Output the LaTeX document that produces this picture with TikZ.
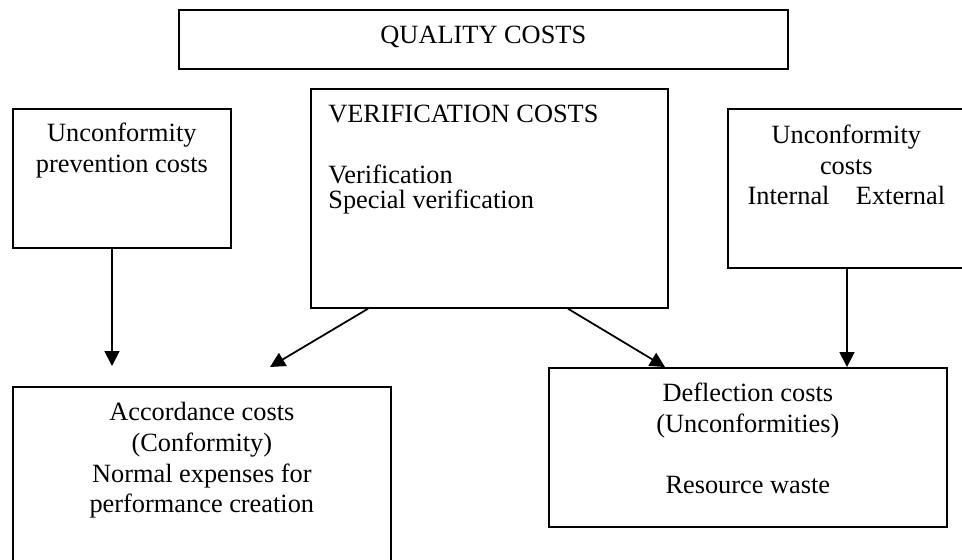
\documentclass[tikz,border=0pt]{standalone}
\usepackage{fontspec}
\setmainfont{Liberation Serif}
\usetikzlibrary{arrows.meta, calc, positioning}
\tikzset{
    caja/.style={draw, line width=1pt, inner sep=0pt, anchor=north west},
    texto/.style={inner sep=0pt, align=center, execute at begin node=\strut},
    flecha/.style={line width=1pt, -{Triangle[length=8.5pt, width=8.5pt]}},
}

\begin{document}
\begin{tikzpicture}[x=0.02cm, y=-0.02cm, font=\fontsize{15}{17.5}\selectfont]
\useasboundingbox (0,0) rectangle (962,559);
\clip (0,0) rectangle (962,559);
% recuadros
\node[caja, minimum width=12.18cm, minimum height=1.18cm, text height=10pt, text depth=5pt] (calidad) at (178,9) {QUALITY COSTS};
\node[caja, minimum width=4.36cm, minimum height=2.78cm] (prevencion) at (12,108) {};
\node[caja, minimum width=7.14cm, minimum height=4.38cm] (verificacion) at (310,88) {};
\node[caja, minimum width=4.74cm, minimum height=3.18cm] (inconformidad) at (727,108) {};
\node[caja, minimum width=7.56cm, minimum height=3.8cm] (conformidad) at (12,386) {};
\node[caja, minimum width=7.96cm, minimum height=3.18cm] (desviacion) at (548,367) {};
% textos
\node[texto, below=0.3cm of prevencion.north] (prevencionTxt) {Unconformity\\prevention costs};
\node[texto, align=left, below right=0.33cm and 0.36cm of verificacion.north west] (verificacionTxt) {VERIFICATION COSTS\\[17.5pt]Verification\\[-3.5pt]Special verification};
\node[texto, below=0.33cm of inconformidad.north] (inconformidadTxt) {Unconformity\\costs\\Internal\quad External};
\node[texto, below=0.32cm of conformidad.north] (conformidadTxt) {Accordance costs\\(Conformity)\\Normal expenses for\\performance creation};
\node[texto, below=0.31cm of desviacion.north] (desviacionTxt) {Deflection costs\\(Unconformities)\\[17.5pt]Resource waste};
% flechas
\coordinate (puntaA) at (112,366);
\coordinate (puntaB) at (270,367);
\coordinate (puntaC) at (665,367);
\coordinate (puntaD) at (847,367);
\draw[flecha] (prevencion.south -| puntaA) -- (puntaA);
\draw[flecha] ($(verificacion.south west)+(58,0)$) -- (puntaB);
\draw[flecha] ($(verificacion.south west)+(258,0)$) -- (puntaC);
\draw[flecha] (inconformidad.south -| puntaD) -- (puntaD);
\end{tikzpicture}
\end{document}
